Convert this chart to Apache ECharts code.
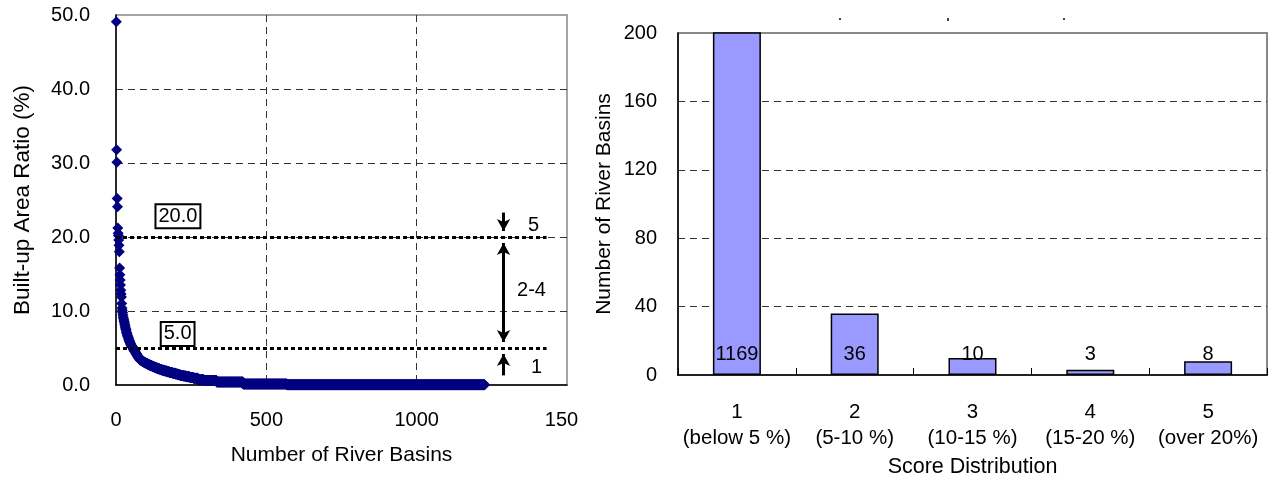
<!DOCTYPE html>
<html><head><meta charset="utf-8">
<script src="https://cdn.jsdelivr.net/npm/echarts@6/dist/echarts.min.js"></script>
<style>html,body{margin:0;padding:0;background:#fff}#c{width:1275px;height:479px}</style>
</head><body><div id="c"></div>
<script>
// ---- data ----
// Built-up area ratio (%) of river basins sorted descending, ranks 1..57 (one value per basin)
const topRatios = [49.1, 31.8, 30.1, 25.2, 24.1, 21.2, 20.5, 20.2, 19.6, 18.9, 18.0,
  15.8, 14.9, 14.2, 13.5, 12.8, 12.3, 11.9, 11.0, 10.4, 10.1,
  9.8, 9.5, 9.2, 9.0, 8.8, 8.6, 8.4, 8.2, 8.0, 7.8, 7.6, 7.5, 7.3, 7.1, 7.0, 6.9, 6.7, 6.6,
  6.5, 6.4, 6.2, 6.1, 6.0, 5.9, 5.8, 5.7, 5.6, 5.5, 5.4, 5.35, 5.3, 5.2, 5.15, 5.1, 5.05, 5.0];
// remaining basins (ranks 58..1226) as runs of [ratio %, number of basins], read along the band
const tailRuns = [[4.8,3],[4.6,3],[4.4,3],[4.2,3],[4.0,3],[3.8,3],[3.6,3],[3.4,4],[3.3,4],[3.2,4],
  [3.1,4],[3.0,5],[2.9,5],[2.8,5],[2.7,5],[2.6,6],[2.5,6],[2.4,6],[2.3,6],[2.2,7],[2.1,7],[2.0,9],
  [1.9,8],[1.8,8],[1.7,10],[1.6,10],[1.5,8],[1.4,8],[1.3,10],[1.2,10],[1.1,12],[1.0,12],[0.9,15],
  [0.7,20],[0.6,42],[0.4,88],[0.15,146],[0.05,658]];
const leftXTickLabels = ['0', '500', '1000', '150'];
const thresholds = [20.0, 5.0];
const scoreBandLabels = ['5', '2-4', '1'];

const scoreCategories = ['1\n(below 5 %)', '2\n(5-10 %)', '3\n(10-15 %)', '4\n(15-20 %)', '5\n(over 20%)'];
const scoreCounts = [1169, 36, 10, 3, 8];

// ---- chart ----
const FONT = '"Liberation Sans", Arial, sans-serif';
const basinRatios = topRatios.slice();
tailRuns.forEach(([v, n]) => { for (let k = 0; k < n; k++) basinRatios.push(v); });
const basinPoints = basinRatios.map((v, i) => [i + 1, v]);

const chart = echarts.init(document.getElementById('c'), null, {renderer: 'canvas'});
const dashGrid = {color: '#333', width: 1, type: [7, 5]};
const dotted = {color: '#000', width: 3, type: [4, 3]};
const arrowLine = {color: '#000', width: 3, type: 'solid'};
const ah = 0.81; // half arrow length in data units (6px)
const arrowX = 1289;

chart.setOption({
  animation: false,
  backgroundColor: '#fff',
  textStyle: {fontFamily: FONT, color: '#000'},
  grid: [
    {left: 116, top: 15, width: 451, height: 370, show: true, borderColor: '#888', borderWidth: 1.5, backgroundColor: '#fff', containLabel: false, outerBoundsMode: 'none'},
    {left: 678, top: 33, width: 589, height: 342, show: true, borderColor: '#888', borderWidth: 2, backgroundColor: '#fff', containLabel: false, outerBoundsMode: 'none'}
  ],
  xAxis: [
    {
      gridIndex: 0, type: 'value', min: 0, max: 1500, interval: 500,
      axisLine: {show: true, onZero: false, lineStyle: {color: '#000', width: 1.5}},
      axisTick: {show: false},
      splitLine: {show: true, showMinLine: false, showMaxLine: false, lineStyle: dashGrid},
      axisLabel: {
        color: '#000', fontSize: 20, fontFamily: FONT, margin: 25,
        formatter: (v) => {
          const s = leftXTickLabels[Math.round(v / 500)];
          return v === 1500 ? '{cut|' + s + '}' : s;
        },
        rich: {cut: {color: '#000', fontSize: 20, fontFamily: FONT, padding: [0, 11, 0, 0]}}
      },
      name: 'Number of River Basins', nameLocation: 'middle', nameGap: 60,
      nameTextStyle: {color: '#000', fontSize: 21, fontFamily: FONT}
    },
    {
      gridIndex: 1, type: 'category', data: scoreCategories,
      axisLine: {show: true, onZero: false, lineStyle: {color: '#000', width: 1.5}},
      axisTick: {show: true, inside: true, length: 7, alignWithLabel: false, lineStyle: {color: '#000', width: 1}},
      splitLine: {show: false},
      axisLabel: {color: '#000', fontSize: 20.5, fontFamily: FONT, margin: 24, lineHeight: 26, interval: 0},
      name: 'Score Distribution', nameLocation: 'middle', nameGap: 81,
      nameTextStyle: {color: '#000', fontSize: 21.5, fontFamily: FONT}
    }
  ],
  yAxis: [
    {
      gridIndex: 0, type: 'value', min: 0, max: 50, interval: 10,
      axisLine: {show: true, onZero: false, lineStyle: {color: '#000', width: 1.5}},
      axisTick: {show: false},
      splitLine: {show: true, showMinLine: false, showMaxLine: false, lineStyle: dashGrid},
      axisLabel: {color: '#000', fontSize: 20, fontFamily: FONT, margin: 26, formatter: (v) => v.toFixed(1)},
      name: 'Built-up Area Ratio (%)', nameLocation: 'middle', nameGap: 82, nameRotate: 90,
      nameTextStyle: {color: '#000', fontSize: 22.5, fontFamily: FONT}
    },
    {
      gridIndex: 1, type: 'value', min: 0, max: 200, interval: 40,
      axisLine: {show: true, onZero: false, lineStyle: {color: '#000', width: 1.5}},
      axisTick: {show: false},
      splitLine: {show: true, showMinLine: false, showMaxLine: false, lineStyle: dashGrid},
      axisLabel: {color: '#000', fontSize: 20, fontFamily: FONT, margin: 21},
      name: 'Number of River Basins', nameLocation: 'middle', nameGap: 63, nameRotate: 90,
      nameTextStyle: {color: '#000', fontSize: 21, fontFamily: FONT}
    }
  ],
  series: [
    {
      type: 'scatter', xAxisIndex: 0, yAxisIndex: 0, data: basinPoints,
      symbol: 'diamond', symbolSize: 11, clip: false, silent: true, large: false,
      itemStyle: {color: '#000080', opacity: 1},
      markLine: {
        silent: true, animation: false, symbol: ['none', 'none'],
        label: {show: false},
        lineStyle: dotted,
        data: [
          [{coord: [0, thresholds[0]], lineStyle: dotted}, {coord: [1432, thresholds[0]]}],
          [{coord: [0, thresholds[1]], lineStyle: dotted}, {coord: [1432, thresholds[1]]}],
          [{coord: [arrowX, 23.3], symbol: 'none', lineStyle: arrowLine},
           {coord: [arrowX, thresholds[0] + ah], symbol: 'arrow', symbolSize: [10, 12]}],
          [{coord: [arrowX, thresholds[0] - ah], symbol: 'arrow', symbolSize: [10, 12], lineStyle: arrowLine},
           {coord: [arrowX, thresholds[1] + ah], symbol: 'arrow', symbolSize: [10, 12]}],
          [{coord: [arrowX, 1.3], symbol: 'none', lineStyle: arrowLine},
           {coord: [arrowX, thresholds[1] - ah], symbol: 'arrow', symbolSize: [10, 12]}]
        ]
      },
      markPoint: {
        silent: true, animation: false, symbol: 'rect', symbolSize: 1,
        itemStyle: {color: 'rgba(0,0,0,0)'},
        label: {show: true, position: 'inside', color: '#000', fontSize: 20, fontFamily: FONT},
        data: [
          {coord: [206, 22.8], label: {formatter: thresholds[0].toFixed(1), backgroundColor: '#fff', borderColor: '#000', borderWidth: 2, padding: [2, 2, 0, 2]}},
          {coord: [205, 6.9], label: {formatter: thresholds[1].toFixed(1), backgroundColor: '#fff', borderColor: '#000', borderWidth: 2, padding: [2, 2, 0, 2]}},
          {coord: [1389, 21.6], label: {formatter: scoreBandLabels[0]}},
          {coord: [1382, 12.8], label: {formatter: scoreBandLabels[1]}},
          {coord: [1399, 2.4], label: {formatter: scoreBandLabels[2]}}
        ]
      }
    },
    {
      type: 'bar', xAxisIndex: 1, yAxisIndex: 1, data: scoreCounts, barWidth: 48, clip: true, silent: true,
      itemStyle: {color: '#9999FF', borderColor: '#000', borderWidth: 1.5},
      label: {show: true, position: 'insideBottom', distance: 11, color: '#000', fontSize: 20, fontFamily: FONT}
    }
  ],
  graphic: [
    {type: 'rect', shape: {x: 839, y: 18, width: 2, height: 2}, style: {fill: '#444'}, silent: true},
    {type: 'rect', shape: {x: 947, y: 18, width: 2, height: 3}, style: {fill: '#444'}, silent: true},
    {type: 'rect', shape: {x: 1063, y: 18, width: 2, height: 2}, style: {fill: '#444'}, silent: true}
  ]
});
</script>
</body></html>
